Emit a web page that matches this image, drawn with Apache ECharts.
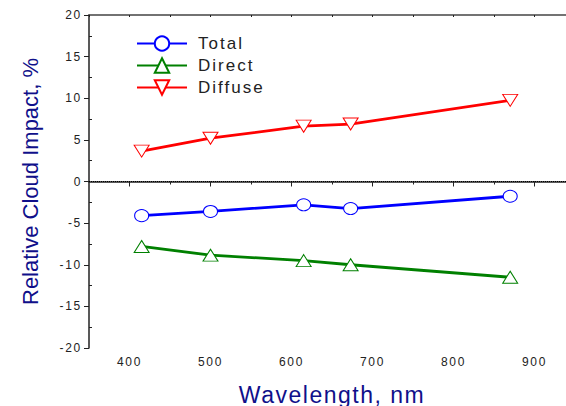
<!DOCTYPE html>
<html>
<head>
<meta charset="utf-8">
<script src="https://cdn.jsdelivr.net/npm/echarts@6/dist/echarts.min.js"></script>
<style>
html,body{margin:0;padding:0;background:#fff;}
#chart{width:566px;height:406px;}
</style>
</head>
<body>
<div id="chart"></div>
<script>
const wavelengths = [415, 500, 615, 673, 870];
const totalValues = [-4.1, -3.6, -2.8, -3.25, -1.77];
const directValues = [-7.8, -8.85, -9.5, -10.0, -11.5];
const diffuseValues = [3.65, 5.2, 6.65, 6.9, 9.75];
const seriesNames = ['Total', 'Direct', 'Diffuse'];
const xTickLabels = [400, 500, 600, 700, 800, 900];
const xMinorTicks = [450, 550, 650, 750, 850];
const yMinorTicks = [-17.5, -12.5, -7.5, -2.5, 2.5, 7.5, 12.5, 17.5];
const xTitle = 'Wavelength, nm';
const yTitle = 'Relative Cloud Impact, %';

function pairs(vals) { return wavelengths.map((w, i) => [w, vals[i]]); }

const chart = echarts.init(document.getElementById('chart'), null, {renderer: 'svg'});
const axisCol = '#222';
const titleCol = '#10108a';
const font = 'Liberation Sans, Arial, sans-serif';

chart.setOption({
  animation: false,
  backgroundColor: '#fff',
  grid: {left: 89, top: 15, right: -9, bottom: 58, containLabel: false, outerBoundsMode: 'none'},
  legend: {
    left: 131, top: 30, orient: 'vertical',
    itemWidth: 50, itemHeight: 18, itemGap: 5,
    textStyle: {fontFamily: font, fontSize: 17, color: '#222', padding: [0, 0, 0, 6]},
    data: seriesNames
  },
  xAxis: [{
    type: 'value', min: 350, max: 950, interval: 50,
    name: xTitle, nameLocation: 'middle', nameGap: 35,
    nameTextStyle: {fontFamily: font, fontSize: 23, color: titleCol},
    axisLine: {show: true, lineStyle: {color: axisCol, width: 1.5}},
    axisTick: {show: true, length: 5, lineStyle: {color: axisCol}, customValues: xTickLabels},
    axisLabel: {fontFamily: font, fontSize: 12, color: axisCol, margin: 8, customValues: xTickLabels},
    splitLine: {show: false}
  }, {
    type: 'value', min: 350, max: 950, interval: 50, position: 'bottom',
    axisLine: {show: false},
    axisTick: {show: true, length: 3, lineStyle: {color: axisCol}, customValues: xMinorTicks},
    axisLabel: {show: false}, splitLine: {show: false}
  }, {
    type: 'value', min: 350, max: 950, interval: 50, position: 'top',
    axisLine: {show: true, lineStyle: {color: '#444', width: 1.5}},
    axisTick: {show: true, inside: true, length: 2, lineStyle: {color: axisCol}},
    axisLabel: {show: false}, splitLine: {show: false}
  }],
  yAxis: [{
    type: 'value', min: -20, max: 20, interval: 5,
    name: yTitle, nameLocation: 'middle', nameGap: 48, nameRotate: 90,
    nameTextStyle: {fontFamily: font, fontSize: 22, color: titleCol},
    axisLine: {show: true, lineStyle: {color: axisCol, width: 1.5}},
    axisTick: {show: true, length: 5, lineStyle: {color: axisCol}},
    axisLabel: {fontFamily: font, fontSize: 12, color: axisCol, margin: 7},
    splitLine: {show: false}
  }, {
    type: 'value', min: -20, max: 20, interval: 5, position: 'left',
    axisLine: {show: false},
    axisTick: {show: true, inside: true, length: 3, lineStyle: {color: axisCol}, customValues: yMinorTicks},
    axisLabel: {show: false}, splitLine: {show: false}
  }],
  series: [{
    name: seriesNames[0], type: 'line', data: pairs(totalValues),
    symbol: 'circle', symbolSize: [14, 12],
    lineStyle: {color: '#0000ff', width: 2.8},
    itemStyle: {color: '#fff', borderColor: '#0000ff', borderWidth: 1},
    color: '#0000ff', z: 3,
    markLine: {
      silent: true, symbol: ['none', 'none'], label: {show: false},
      lineStyle: {color: '#000', type: 'dotted', width: 1},
      data: [{yAxis: 0}]
    }
  }, {
    name: seriesNames[1], type: 'line', data: pairs(directValues),
    symbol: 'triangle', symbolSize: [15, 12],
    lineStyle: {color: '#008000', width: 2.8},
    itemStyle: {color: '#fff', borderColor: '#008000', borderWidth: 1},
    color: '#008000', z: 3
  }, {
    name: seriesNames[2], type: 'line', data: pairs(diffuseValues),
    symbol: 'path://M0,0 L10,0 L5,9 Z', symbolSize: [15, 12], symbolKeepAspect: false,
    lineStyle: {color: '#ff0000', width: 2.8},
    itemStyle: {color: '#fff', borderColor: '#ff0000', borderWidth: 1},
    color: '#ff0000', z: 3
  }]
});

function applySpacing() {
  const spacing = {12: '1.7px', 17: '2px', 23: '1.5px'};
  document.querySelectorAll('#chart svg text').forEach(t => {
    const fs = Math.round(parseFloat(getComputedStyle(t).fontSize));
    if (spacing[fs]) t.style.letterSpacing = spacing[fs];
  });
}
chart.on('finished', applySpacing);
setTimeout(applySpacing, 50);
</script>
</body>
</html>
